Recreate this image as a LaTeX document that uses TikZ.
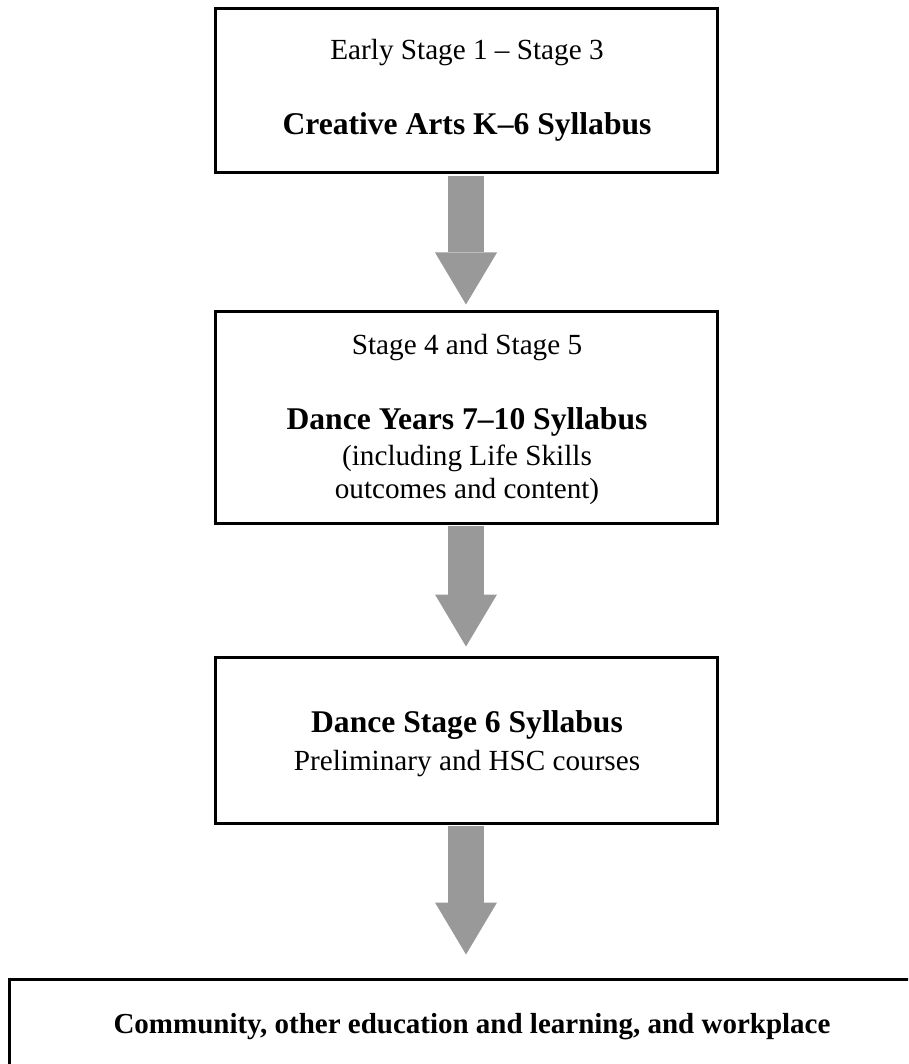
\documentclass[tikz,border=0pt]{standalone}
\usepackage{fontspec}
\setmainfont{Liberation Serif}
\usetikzlibrary{arrows.meta,calc}
\definecolor{arrowgray}{RGB}{153,153,153}
\tikzset{
 box/.style={draw=black, line width=3pt, fill=white, rectangle, inner sep=0pt},
 reg/.style={anchor=base, inner sep=0pt, font=\fontsize{29.2}{35}\selectfont},
 bld/.style={anchor=base, inner sep=0pt, font=\fontsize{31.6}{38}\selectfont\bfseries},
 bldsm/.style={anchor=base, inner sep=0pt, font=\fontsize{29}{35}\selectfont\bfseries},
 fat/.style={draw=arrowgray, line width=36pt, -{Triangle[width=62pt,length=52pt,line width=0pt]}, shorten <=1.5pt},
}
\begin{document}
\begin{tikzpicture}[x=1pt,y=-1pt]
\useasboundingbox (0,0) rectangle (908,1064);
\clip (0,0) rectangle (908,1064);
\fill[white] (0,0) rectangle (908,1064);
\node[box, minimum width=502pt, minimum height=164pt] (b1) at (466,91) {};
\node[box, minimum width=502pt, minimum height=212pt] (b2) at (466,417) {};
\node[box, minimum width=502pt, minimum height=166pt] (b3) at (466,740) {};
\node[box, minimum width=925pt, minimum height=104pt] (b4) at (472,1031) {};
\node[reg] (t1a) at (467,60) {Early Stage 1 – Stage 3};
\node[bld] (t1b) at (467,135) {Creative Arts K–6 Syllabus};
\node[reg] (t2a) at (467,354) {Stage 4 and Stage 5};
\node[bld] (t2b) at (467,429) {Dance Years 7–10 Syllabus};
\node[reg] (t2c) at (467,465) {(including Life Skills};
\node[reg] (t2d) at (467,498) {outcomes and content)};
\node[bld] (t3a) at (467,732) {Dance Stage 6 Syllabus};
\node[reg] (t3b) at (467,770) {Preliminary and HSC courses};
\node[bldsm] (t4) at (472,1033) {Community, other education and learning, and workplace};
\draw[fat] (b1.south) -- ($(b2.north)+(0,-5)$);
\draw[fat] (b2.south) -- ($(b3.north)+(0,-9)$);
\draw[fat] (b3.south) -- ($(b3.south |- b4.north)+(0,-23)$);
\end{tikzpicture}
\end{document}
